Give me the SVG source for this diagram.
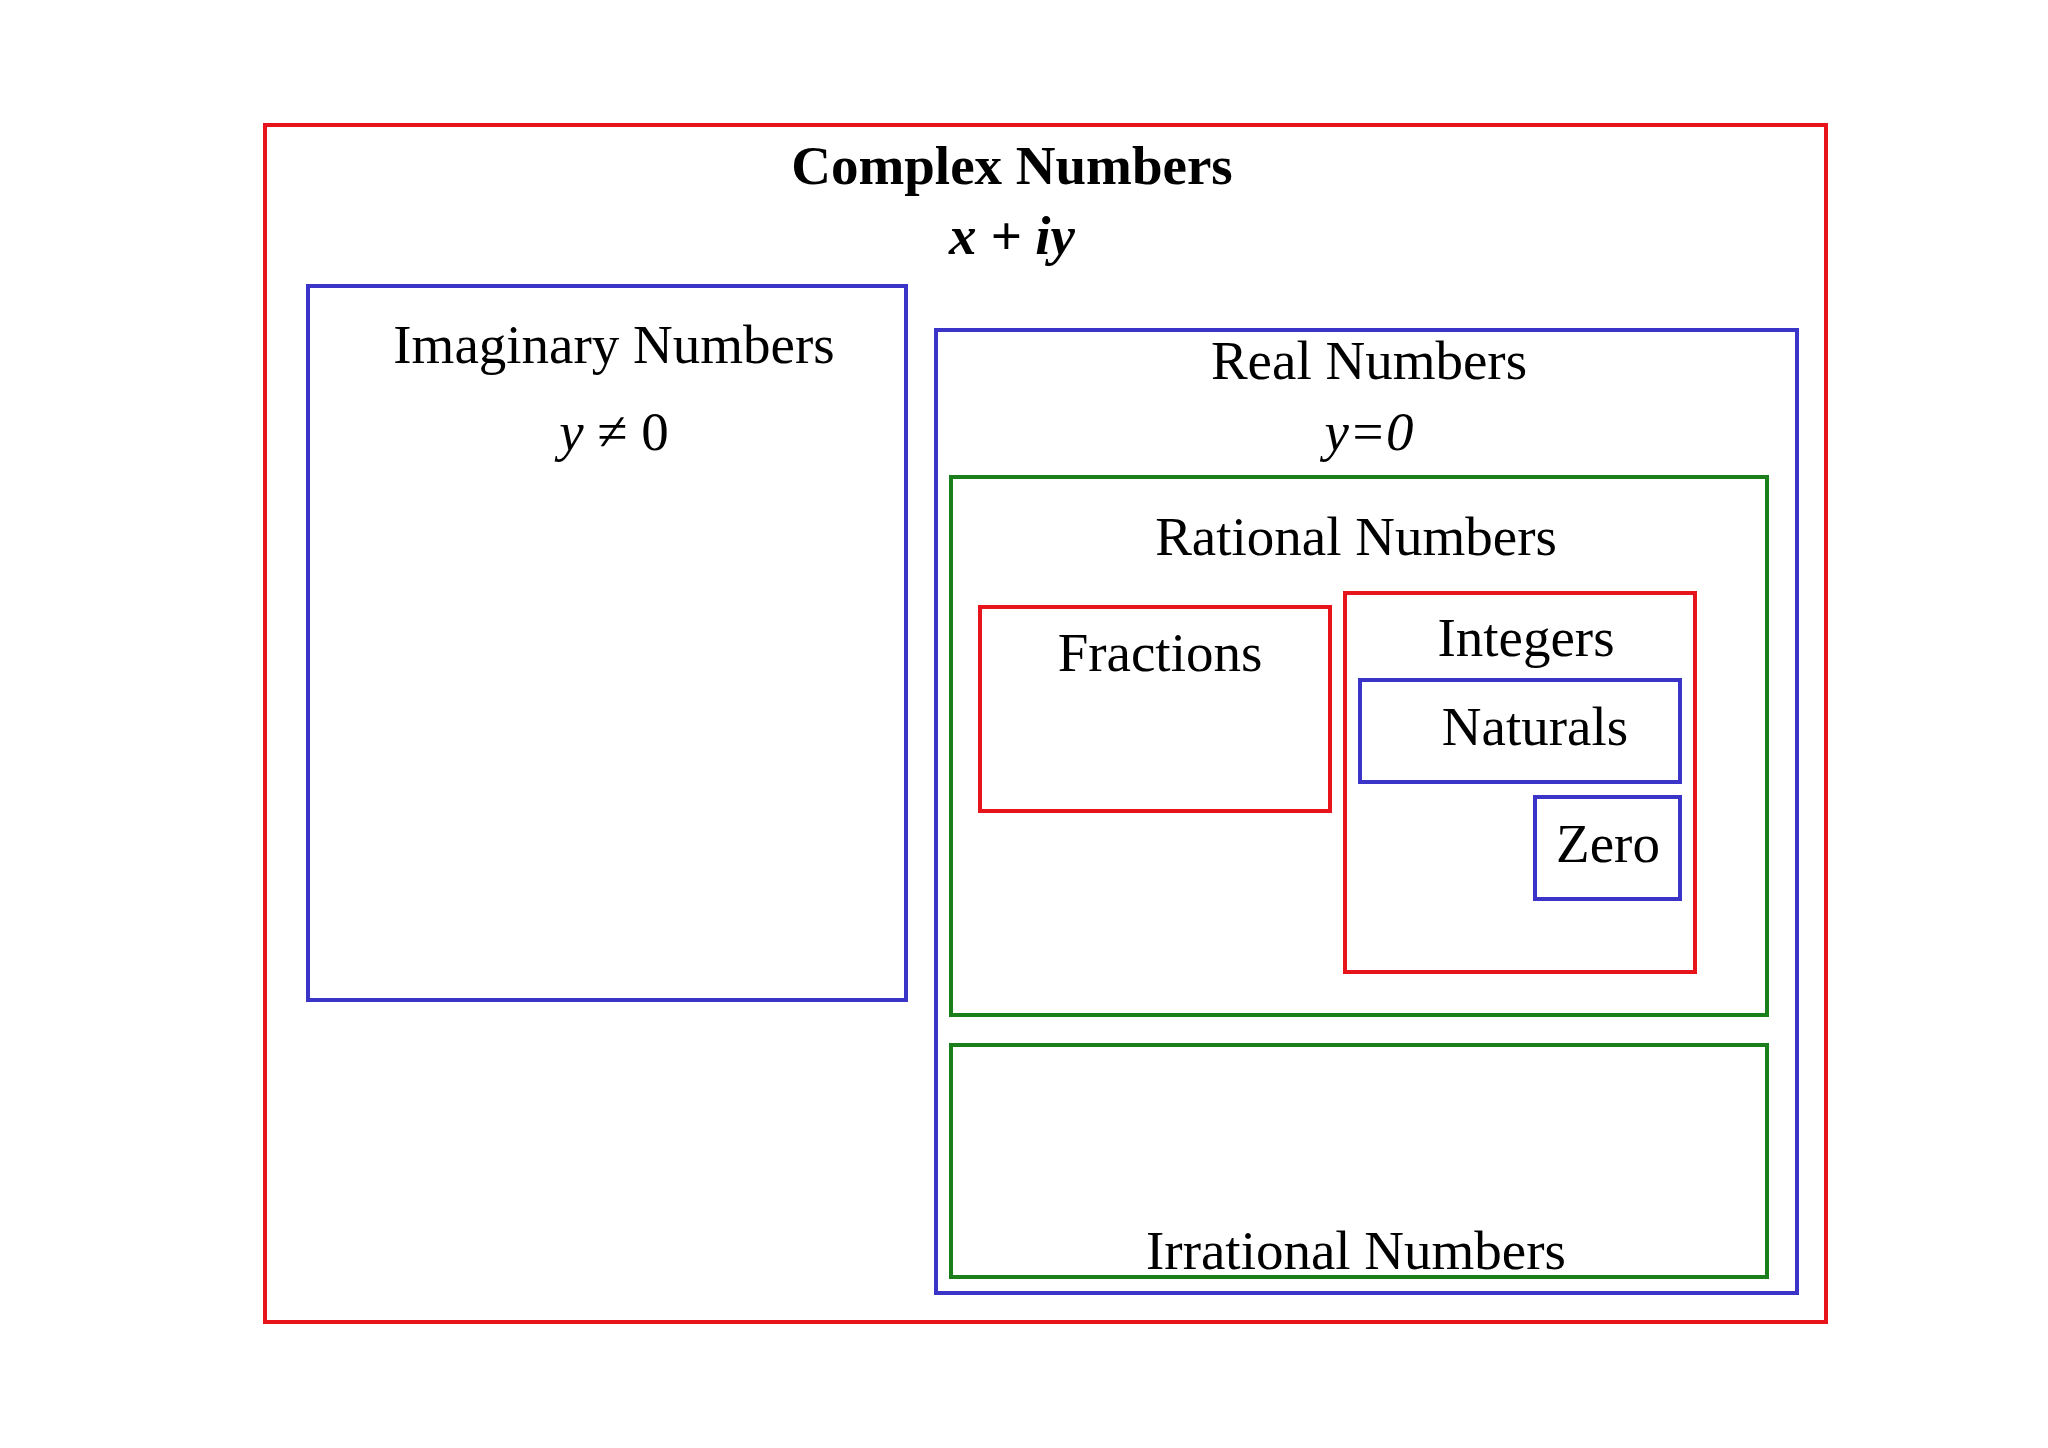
<svg xmlns="http://www.w3.org/2000/svg" width="2048" height="1448" viewBox="0 0 2048 1448">
<style>
.b{fill:none;stroke-width:4}
.r{stroke:#e8141c}.u{stroke:#3a35c8}.g{stroke:#1a7f1a}
text{font-family:"Liberation Serif",serif;font-size:55px;text-anchor:middle;fill:#000}
</style>
<rect width="2048" height="1448" fill="#fff"/>
<g id="complex"><rect class="b r" x="265" y="125" width="1561" height="1197" fill="#fcfdfd"/>
<text x="1012" y="184" font-weight="bold" font-size="57">Complex Numbers</text>
<text x="1012" y="254" font-weight="bold" font-style="italic" font-size="57">x + iy</text></g>
<g id="imaginary"><rect class="b u" x="308" y="286" width="598" height="714"/>
<text x="614" y="363">Imaginary Numbers</text>
<text x="614" y="450"><tspan font-style="italic">y</tspan> ≠ 0</text></g>
<g id="real"><rect class="b u" x="936" y="330" width="861" height="963"/>
<text x="1369" y="379">Real Numbers</text>
<text x="1369" y="450" font-style="italic">y=0</text></g>
<g id="rational"><rect class="b g" x="951" y="477" width="816" height="538"/>
<text x="1356" y="555">Rational Numbers</text></g>
<g id="fractions"><rect class="b r" x="980" y="607" width="350" height="204"/>
<text x="1160" y="671">Fractions</text></g>
<g id="integers"><rect class="b r" x="1345" y="593" width="350" height="379"/>
<text x="1526" y="656">Integers</text></g>
<g id="naturals"><rect class="b u" x="1360" y="680" width="320" height="102"/>
<text x="1535" y="745">Naturals</text></g>
<g id="zero"><rect class="b u" x="1535" y="797" width="145" height="102"/>
<text x="1608" y="862">Zero</text></g>
<g id="irrational"><rect class="b g" x="951" y="1045" width="816" height="232"/>
<text x="1356" y="1269">Irrational Numbers</text></g>
<g id="connectors"/>
</svg>
